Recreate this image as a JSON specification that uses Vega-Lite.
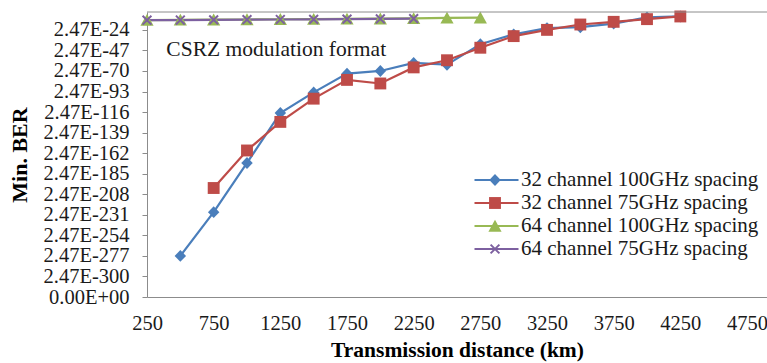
{
  "$schema": "https://vega.github.io/schema/vega-lite/v6.json",
  "width": 620,
  "height": 285,
  "autosize": "none",
  "padding": {"left": 147, "top": 12, "right": 0, "bottom": 66},
  "background": "white",
  "config": {
    "view": {"stroke": null},
    "font": "Times New Roman, Liberation Serif, serif",
    "axis": {"grid": false, "domainColor": "#8c8c8c", "tickColor": "#8c8c8c", "labelColor": "#1a1a1a", "titleColor": "#000000", "labelFont": "Times New Roman, Liberation Serif, serif", "titleFont": "Times New Roman, Liberation Serif, serif"},
    "axisY": {"labelOverlap": false, "tickCount": 20},
    "axisX": {"labelOverlap": false, "tickCount": 20},
    "legend": {"labelFont": "Times New Roman, Liberation Serif, serif"}
  },
  "datasets": {
    "ber": [
      {"series": "32 channel 100GHz spacing", "km": 500, "exp": -277},
      {"series": "32 channel 100GHz spacing", "km": 750, "exp": -228},
      {"series": "32 channel 100GHz spacing", "km": 1000, "exp": -173},
      {"series": "32 channel 100GHz spacing", "km": 1250, "exp": -117},
      {"series": "32 channel 100GHz spacing", "km": 1500, "exp": -94},
      {"series": "32 channel 100GHz spacing", "km": 1750, "exp": -73},
      {"series": "32 channel 100GHz spacing", "km": 2000, "exp": -70},
      {"series": "32 channel 100GHz spacing", "km": 2250, "exp": -61},
      {"series": "32 channel 100GHz spacing", "km": 2500, "exp": -63},
      {"series": "32 channel 100GHz spacing", "km": 2750, "exp": -40},
      {"series": "32 channel 100GHz spacing", "km": 3000, "exp": -29},
      {"series": "32 channel 100GHz spacing", "km": 3250, "exp": -22},
      {"series": "32 channel 100GHz spacing", "km": 3500, "exp": -21},
      {"series": "32 channel 100GHz spacing", "km": 3750, "exp": -17},
      {"series": "32 channel 100GHz spacing", "km": 4000, "exp": -10},
      {"series": "32 channel 100GHz spacing", "km": 4250, "exp": -9},
      {"series": "32 channel 75GHz spacing", "km": 750, "exp": -201},
      {"series": "32 channel 75GHz spacing", "km": 1000, "exp": -159},
      {"series": "32 channel 75GHz spacing", "km": 1250, "exp": -127},
      {"series": "32 channel 75GHz spacing", "km": 1500, "exp": -101},
      {"series": "32 channel 75GHz spacing", "km": 1750, "exp": -80},
      {"series": "32 channel 75GHz spacing", "km": 2000, "exp": -84},
      {"series": "32 channel 75GHz spacing", "km": 2250, "exp": -66},
      {"series": "32 channel 75GHz spacing", "km": 2500, "exp": -58},
      {"series": "32 channel 75GHz spacing", "km": 2750, "exp": -44},
      {"series": "32 channel 75GHz spacing", "km": 3000, "exp": -31},
      {"series": "32 channel 75GHz spacing", "km": 3250, "exp": -24},
      {"series": "32 channel 75GHz spacing", "km": 3500, "exp": -18},
      {"series": "32 channel 75GHz spacing", "km": 3750, "exp": -15},
      {"series": "32 channel 75GHz spacing", "km": 4000, "exp": -12},
      {"series": "32 channel 75GHz spacing", "km": 4250, "exp": -9},
      {"series": "64 channel 100GHz spacing", "km": 250, "exp": -13.0},
      {"series": "64 channel 100GHz spacing", "km": 500, "exp": -12.8},
      {"series": "64 channel 100GHz spacing", "km": 750, "exp": -12.6},
      {"series": "64 channel 100GHz spacing", "km": 1000, "exp": -12.4},
      {"series": "64 channel 100GHz spacing", "km": 1250, "exp": -12.1},
      {"series": "64 channel 100GHz spacing", "km": 1500, "exp": -11.9},
      {"series": "64 channel 100GHz spacing", "km": 1750, "exp": -11.7},
      {"series": "64 channel 100GHz spacing", "km": 2000, "exp": -11.5},
      {"series": "64 channel 100GHz spacing", "km": 2250, "exp": -11.1},
      {"series": "64 channel 100GHz spacing", "km": 2500, "exp": -10.6},
      {"series": "64 channel 100GHz spacing", "km": 2750, "exp": -10.4},
      {"series": "64 channel 75GHz spacing", "km": 250, "exp": -13.2},
      {"series": "64 channel 75GHz spacing", "km": 500, "exp": -13.0},
      {"series": "64 channel 75GHz spacing", "km": 750, "exp": -12.8},
      {"series": "64 channel 75GHz spacing", "km": 1000, "exp": -12.6},
      {"series": "64 channel 75GHz spacing", "km": 1250, "exp": -12.4},
      {"series": "64 channel 75GHz spacing", "km": 1500, "exp": -12.2},
      {"series": "64 channel 75GHz spacing", "km": 1750, "exp": -12.0},
      {"series": "64 channel 75GHz spacing", "km": 2000, "exp": -11.8},
      {"series": "64 channel 75GHz spacing", "km": 2250, "exp": -11.4}
    ],
    "notes": [
      {"note": "CSRZ modulation format"}
    ]
  },
  "layer": [
    {
      "data": {"name": "ber"},
      "mark": {"type": "line", "strokeWidth": 2.2},
      "encoding": {
        "x": {
          "field": "km", "type": "quantitative",
          "scale": {"domain": [250, 4900], "nice": false, "zero": false},
          "axis": {
            "values": [250, 750, 1250, 1750, 2250, 2750, 3250, 3750, 4250, 4750],
            "tickCount": 20,
            "format": "d", "labelOverlap": false,
            "ticks": false, "labelPadding": 16, "labelFontSize": 20.5, "labelFlush": false,
            "title": "Transmission distance (km)", "titleFontSize": 21.5, "titleFontWeight": "bold",
            "titleX": 310, "titleY": 53, "titleBaseline": "middle"
          }
        },
        "y": {
          "field": "exp", "type": "quantitative",
          "scale": {"domain": [-323, -4], "nice": false, "zero": false},
          "axis": {
            "values": [-323, -300, -277, -254, -231, -208, -185, -162, -139, -116, -93, -70, -47, -24],
            "tickCount": 20,
            "labelExpr": "datum.value == -323 ? '0.00E+00' : '2.47E' + datum.value",
            "labelOverlap": false,
            "tickSize": 5, "labelPadding": 13, "labelFontSize": 20.5,
            "title": "Min. BER", "titleFontSize": 22, "titleFontWeight": "bold",
            "titleAngle": 270, "titleX": -128, "titleY": 142.5, "titleAlign": "center", "titleBaseline": "middle"
          }
        },
        "color": {
          "field": "series", "type": "nominal",
          "scale": {
            "domain": ["32 channel 100GHz spacing", "32 channel 75GHz spacing", "64 channel 100GHz spacing", "64 channel 75GHz spacing"],
            "range": ["#4a7ebb", "#be4b48", "#98b954", "#7d60a0"]
          },
          "legend": {
            "orient": "none", "legendX": 326, "legendY": 160, "title": null,
            "symbolType": "M-1,0H1", "symbolSize": 1936, "symbolStrokeWidth": 2.2,
            "clipHeight": 16, "rowPadding": 2,
            "labelFontSize": 21, "labelColor": "#1a1a1a", "labelOffset": 1, "labelLimit": 400
          }
        }
      }
    },
    {
      "data": {"name": "ber"},
      "mark": {"type": "point", "filled": true, "size": 1936, "opacity": 1, "strokeWidth": 0},
      "encoding": {
        "x": {"field": "km", "type": "quantitative"},
        "y": {"field": "exp", "type": "quantitative"},
        "fill": {
          "field": "series", "type": "nominal",
          "scale": {"range": ["#4a7ebb", "#be4b48", "#98b954", "#7d60a0"]},
          "legend": {
            "orient": "none", "legendX": 326, "legendY": 160, "title": null,
            "symbolSize": 1936, "symbolStrokeWidth": 0, "symbolOpacity": 1,
            "clipHeight": 16, "rowPadding": 2,
            "labelFontSize": 21, "labelExpr": "''", "labelOffset": 1, "labelLimit": 400
          }
        },
        "shape": {
          "field": "series", "type": "nominal",
          "scale": {
            "range": [
              "M0,-0.27L0.26,0L0,0.27L-0.26,0Z",
              "M-0.27,-0.27H0.27V0.27H-0.27Z",
              "M0,-0.28L0.3,0.26H-0.3Z",
              "M-0.232,-0.168L0.168,0.232L0.232,0.168L-0.168,-0.232ZM-0.168,0.232L0.232,-0.168L0.168,-0.232L-0.232,0.168Z"
            ]
          },
          "legend": {
            "orient": "none", "legendX": 326, "legendY": 160, "title": null,
            "symbolSize": 1936, "symbolStrokeWidth": 0, "symbolOpacity": 1,
            "clipHeight": 16, "rowPadding": 2,
            "labelFontSize": 21, "labelExpr": "''", "labelOffset": 1, "labelLimit": 400
          }
        }
      }
    },
    {
      "data": {"name": "notes"},
      "mark": {"type": "rule", "color": "#8c8c8c", "strokeWidth": 1},
      "encoding": {"y": {"datum": -4, "type": "quantitative"}}
    },
    {
      "data": {"name": "notes"},
      "mark": {"type": "text", "align": "left", "baseline": "middle", "fontSize": 21.5, "color": "#1a1a1a"},
      "encoding": {
        "x": {"datum": 395, "type": "quantitative"},
        "y": {"datum": -46, "type": "quantitative"},
        "text": {"field": "note", "type": "nominal"}
      }
    }
  ]
}
